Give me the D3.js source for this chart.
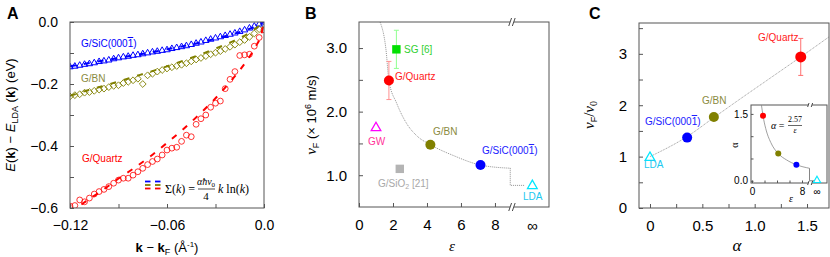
<!DOCTYPE html>
<html>
<head>
<meta charset="utf-8">
<script src="https://cdn.jsdelivr.net/npm/d3@7"></script>
<style>
  body { margin: 0; background: #fff; }
  svg { font-family: "Liberation Sans", Arial, sans-serif; }
</style>
</head>
<body>
<svg id="chart" width="830" height="257"></svg>
<script>
// ---------- panel A data: E(k) - E_LDA(k) vs k - kF ----------
const kA = [-0.120,-0.117,-0.114,-0.111,-0.108,-0.105,-0.102,-0.099,-0.096,-0.093,-0.090,-0.087,-0.084,-0.081,-0.078,-0.075,-0.072,-0.069,-0.066,-0.063,-0.060,-0.057,-0.054,-0.051,-0.048,-0.045,-0.042,-0.039,-0.036,-0.033,-0.030,-0.027,-0.024,-0.021,-0.018,-0.015,-0.012,-0.009,-0.006,-0.003,0.000];
const eSiC = [-0.145,-0.143,-0.140,-0.137,-0.135,-0.132,-0.128,-0.126,-0.123,-0.119,-0.116,-0.113,-0.111,-0.108,-0.106,-0.103,-0.100,-0.097,-0.095,-0.092,-0.090,-0.086,-0.083,-0.080,-0.077,-0.073,-0.069,-0.065,-0.060,-0.056,-0.052,-0.048,-0.044,-0.040,-0.036,-0.031,-0.026,-0.020,-0.014,-0.007,-0.001];
const eBN = [-0.240,-0.236,-0.233,-0.228,-0.226,-0.222,-0.218,-0.215,-0.210,-0.206,-0.204,-0.197,-0.193,-0.188,-0.183,-0.200,-0.172,-0.167,-0.160,-0.155,-0.150,-0.146,-0.142,-0.138,-0.133,-0.127,-0.121,-0.116,-0.110,-0.104,-0.099,-0.094,-0.087,-0.080,-0.073,-0.065,-0.058,-0.048,-0.037,-0.023,-0.008];
const eQz = [-0.594,-0.592,-0.574,-0.580,-0.568,-0.555,-0.547,-0.540,-0.531,-0.520,-0.510,-0.504,-0.504,-0.494,-0.483,-0.472,-0.460,-0.450,-0.442,-0.429,-0.413,-0.407,-0.404,-0.385,-0.365,-0.370,-0.330,-0.312,-0.300,-0.275,-0.262,-0.255,-0.215,-0.185,-0.160,-0.108,-0.106,-0.104,-0.078,-0.050,-0.025];

// fitted Sigma(k) curves
const fitSiC = [[-0.12,-0.143],[-0.11,-0.134],[-0.10,-0.125],[-0.09,-0.116],[-0.08,-0.107],[-0.07,-0.098],[-0.06,-0.088],[-0.05,-0.078],[-0.04,-0.067],[-0.03,-0.054],[-0.02,-0.040],[-0.01,-0.024],[0,0]];
const fitBN = [[-0.12,-0.238],[-0.11,-0.222],[-0.10,-0.207],[-0.09,-0.192],[-0.08,-0.176],[-0.07,-0.160],[-0.06,-0.143],[-0.05,-0.125],[-0.04,-0.106],[-0.03,-0.086],[-0.02,-0.064],[-0.01,-0.038],[0,0]];
const fitQz = [[-0.12,-0.615],[-0.11,-0.578],[-0.10,-0.543],[-0.09,-0.505],[-0.08,-0.470],[-0.07,-0.432],[-0.06,-0.390],[-0.05,-0.346],[-0.04,-0.298],[-0.03,-0.246],[-0.02,-0.187],[-0.01,-0.120],[-0.005,-0.078],[-0.002,-0.045],[0,0]];

// ---------- panel B data: vF vs epsilon ----------
const epsInf = 10.2; // where "infinity" sits on the eps axis
const bNames = ["G/Quartz", "SG [6]", "GW", "G/BN", "G/SiC", "G/SiO2", "LDA"];
const bEps = [1.76, 2.2, 1.0, 4.2, 7.15, 2.4, epsInf];
const bVF = [2.49, 2.98, 1.76, 1.48, 1.16, 1.10, 0.85];
const bErr = [0.30, 0.30, 0, 0, 0, 0, 0];
const bCurve = [[1.24,3.41],[1.59,2.97],[1.76,2.49],[2.22,2.13],[2.81,1.81],[3.4,1.62],[4.2,1.48],[5.55,1.31],[7.15,1.16],[8.9,1.11]];
const bStep = [[8.9,1.11],[8.9,0.84],[9.75,0.84]];

// ---------- panel C data: vF/v0 vs alpha ----------
const cNames = ["LDA", "G/SiC", "G/BN", "G/Quartz"];
const cAlpha = [0, 0.355, 0.61, 1.44];
const cRatio = [1.0, 1.37, 1.77, 2.94];
const cErr = [0, 0, 0, 0.36];
const cLine = [[0,1.0],[0.355,1.39],[0.61,1.76],[0.86,2.12],[1.15,2.53],[1.44,2.94],[1.71,3.33]];

// inset: alpha = 2.57 / eps
const insEps = [1.76, 4.2, 7.1, 10.4];
const insAlpha = [1.46, 0.61, 0.36, 0];
const insCurve = [[1.52,1.69],[1.76,1.46],[2.2,1.17],[3.0,0.86],[4.2,0.61],[5.5,0.47],[7.1,0.36],[9.2,0.28]];
const insStep = [[9.2,0.28],[9.2,0],[10.0,0]];

const cols = {
  red: "#ff0000", olive: "#808000", blue: "#0000ff", green: "#00e000",
  magenta: "#ff00ff", cyan: "#00e8ff", gray: "#b4b4b4"
};
const frameCol = "#555";
const serif = "'Liberation Serif', 'Times New Roman', serif";

const svg = d3.select("#chart");

// text made of styled pieces
function rich(sel, parts) {
  parts.forEach(p => {
    const ts = sel.append("tspan").text(p.t);
    if (p.i) ts.attr("font-style", "italic");
    if (p.b) ts.attr("font-weight", "bold");
    if (p.fs) ts.attr("font-size", p.fs);
    if (p.dy) ts.attr("dy", p.dy);
    if (p.ff) ts.attr("font-family", p.ff);
    if (p.ol) ts.style("text-decoration", "overline");
  });
  return sel;
}

function label(g, x, y, color, size, parts, anchor) {
  const t = g.append("text").attr("x", x).attr("y", y)
    .attr("fill", color).attr("font-size", size)
    .attr("text-anchor", anchor || "start");
  return rich(t, typeof parts === "string" ? [{ t: parts }] : parts);
}

function frame(g, x, y) {
  g.append("rect")
    .attr("x", x.range()[0]).attr("y", y.range()[1])
    .attr("width", x.range()[1] - x.range()[0])
    .attr("height", y.range()[0] - y.range()[1])
    .attr("fill", "none").attr("stroke", frameCol).attr("stroke-width", 1);
}

function axes(g, x, y, o) {
  const gx = g.append("g")
    .attr("transform", `translate(0,${y.range()[0]})`)
    .call(d3.axisBottom(x).tickValues(o.xt).tickFormat(o.xf).tickSize(-o.tl).tickPadding(o.xpad));
  const gy = g.append("g")
    .attr("transform", `translate(${x.range()[0]},0)`)
    .call(d3.axisLeft(y).tickValues(o.yt).tickFormat(o.yf).tickSize(-o.tl).tickPadding(o.ypad));
  [gx, gy].forEach(a => {
    a.select(".domain").remove();
    a.selectAll("line").attr("stroke", frameCol);
    a.selectAll("text").attr("font-size", o.fs).attr("fill", "#000")
      .attr("font-family", "'Liberation Sans', Arial, sans-serif");
  });
}

// break mark "//"
function breakMark(g, x, y, h) {
  g.append("rect").attr("x", x - 2).attr("y", y - 1).attr("width", 4).attr("height", 2).attr("fill", "#fff");
  [-1.8, 1.8].forEach(dx => {
    g.append("line")
      .attr("x1", x + dx - h * 0.35).attr("y1", y + h)
      .attr("x2", x + dx + h * 0.35).attr("y2", y - h)
      .attr("stroke", "#333").attr("stroke-width", 0.9);
  });
}

const sym = (type, size) => d3.symbol().type(type).size(size)();

// =================== PANEL A ===================
const xA = d3.scaleLinear().domain([-0.12, 0]).range([70, 264]);
const yA = d3.scaleLinear().domain([-0.6, 0]).range([208, 22]);
const gA = svg.append("g");

gA.append("clipPath").attr("id", "clipA")
  .append("rect").attr("x", 70).attr("y", 22).attr("width", 194).attr("height", 186);
const plotA = gA.append("g").attr("clip-path", "url(#clipA)");

const lineA = d3.line().x(d => xA(d[0])).y(d => yA(d[1])).curve(d3.curveMonotoneX);

// markers
plotA.selectAll(".qz").data(kA.map((k, i) => [k, eQz[i]])).join("circle")
  .attr("cx", d => xA(d[0])).attr("cy", d => yA(d[1])).attr("r", 2.9)
  .attr("fill", "none").attr("stroke", cols.red).attr("stroke-width", 0.8);
const diamond = "M0,-3.4L3.4,0L0,3.4L-3.4,0Z";
plotA.selectAll(".bn").data(kA.map((k, i) => [k, eBN[i]])).join("path")
  .attr("d", diamond)
  .attr("transform", d => `translate(${xA(d[0])},${yA(d[1])})`)
  .attr("fill", "none").attr("stroke", cols.olive).attr("stroke-width", 0.9);
plotA.selectAll(".sic").data(kA.map((k, i) => [k, eSiC[i]])).join("path")
  .attr("d", sym(d3.symbolTriangle, 18))
  .attr("transform", d => `translate(${xA(d[0])},${yA(d[1])})`)
  .attr("fill", "none").attr("stroke", cols.blue).attr("stroke-width", 1);

// dashed fits
[[fitQz, cols.red], [fitBN, cols.olive], [fitSiC, cols.blue]].forEach(([d, c]) => {
  plotA.append("path").attr("d", lineA(d))
    .attr("fill", "none").attr("stroke", c).attr("stroke-width", 2)
    .attr("stroke-dasharray", "6,8");
});

frame(gA, xA, yA);
axes(gA, xA, yA, {
  xt: [-0.12, -0.09, -0.06, -0.03, 0],
  xf: d => d === -0.09 || d === -0.03 ? "" : (d === 0 ? "0.0" : d3.format(".2f")(d)),
  yt: [-0.6, -0.5, -0.4, -0.3, -0.2, -0.1, 0],
  yf: d => [-0.6, -0.4, -0.2, 0].includes(d) ? d3.format(".1f")(d) : "",
  tl: 4, xpad: 12, ypad: 12, fs: 14
});

label(gA, 81, 47, cols.blue, 10, [{ t: "G/SiC(000" }, { t: "1", ol: true }, { t: ")" }]);
label(gA, 81, 82, "#8a8a40", 10, "G/BN");
label(gA, 82, 162, cols.red, 10, "G/Quartz");

// legend dashes + formula
[[cols.blue, 181.5], [cols.olive, 185], [cols.red, 188.5]].forEach(([c, y]) => {
  [[145, 150.5], [155, 160.5]].forEach(([x1, x2]) => {
    gA.append("line").attr("x1", x1).attr("x2", x2).attr("y1", y).attr("y2", y)
      .attr("stroke", c).attr("stroke-width", 1.8);
  });
});
const fA = gA.append("g").attr("font-family", serif).attr("fill", "#000");
rich(fA.append("text").attr("x", 165).attr("y", 193).attr("font-size", 12),
  [{ t: "Σ(" }, { t: "k", i: true }, { t: ") =" }]);
rich(fA.append("text").attr("x", 206).attr("y", 185).attr("font-size", 10).attr("text-anchor", "middle"),
  [{ t: "αħv", i: true }, { t: "0", fs: 7, dy: 2 }]);
fA.append("line").attr("x1", 198).attr("x2", 215).attr("y1", 189).attr("y2", 189)
  .attr("stroke", "#000").attr("stroke-width", 0.7);
fA.append("text").attr("x", 206).attr("y", 200).attr("font-size", 11).attr("text-anchor", "middle").text("4");
rich(fA.append("text").attr("x", 218).attr("y", 193).attr("font-size", 12),
  [{ t: "k", i: true }, { t: " ln(" }, { t: "k", i: true }, { t: ")" }]);

// axis titles
rich(gA.append("text").attr("transform", "translate(15,115) rotate(-90)")
  .attr("text-anchor", "middle").attr("font-size", 13),
  [{ t: "E", i: true }, { t: "(" }, { t: "k", b: true }, { t: ") − " }, { t: "E", i: true },
   { t: "LDA", fs: 9, dy: 3 }, { t: " (", dy: -3 }, { t: "k", b: true }, { t: ") (eV)" }]);
rich(gA.append("text").attr("x", 167).attr("y", 252).attr("text-anchor", "middle").attr("font-size", 13),
  [{ t: "k", b: true }, { t: " − " }, { t: "k", b: true }, { t: "F", fs: 9, dy: 3 },
   { t: " (Å", dy: -3 }, { t: "-1", fs: 8, dy: -5 }, { t: ")", dy: 5 }]);
gA.append("text").attr("x", 7).attr("y", 19).attr("font-size", 16).attr("font-weight", "bold").text("A");

// =================== PANEL B ===================
const xB = d3.scaleLinear().domain([0, 11.18]).range([359, 549]);
const yB = d3.scaleLinear().domain([0.5, 3.41]).range([207, 22]);
const gB = svg.append("g");
const lineB = d3.line().x(d => xB(d[0])).y(d => yB(d[1]));

gB.append("path").attr("d", lineB.curve(d3.curveMonotoneX)(bCurve))
  .attr("fill", "none").attr("stroke", "#777").attr("stroke-width", 0.8).attr("stroke-dasharray", "1,1");
gB.append("path").attr("d", d3.line().x(d => xB(d[0])).y(d => yB(d[1]))(bStep))
  .attr("fill", "none").attr("stroke", "#777").attr("stroke-width", 0.8).attr("stroke-dasharray", "1,1");

frame(gB, xB, yB);
breakMark(gB, xB(9.0), 22, 4);
breakMark(gB, xB(9.0), 207, 4);
axes(gB, xB, yB, {
  xt: [0, 2, 4, 6, 8], xf: d3.format("d"),
  yt: [1.0, 1.5, 2.0, 2.5, 3.0], yf: d => Number.isInteger(d) ? d3.format(".1f")(d) : "",
  tl: 4, xpad: 12, ypad: 12, fs: 15
});
gB.append("text").attr("x", xB(epsInf)).attr("y", 231).attr("text-anchor", "middle")
  .attr("font-size", 15).text("∞");

const bStyle = [
  { c: cols.red, shape: "circle", tc: "#ff2020", lx: 395, ly: 80, ep: "#ff9090" },
  { c: cols.green, shape: "square", tc: "#30d030", lx: 404, ly: 53, ep: "#90ff90" },
  { c: cols.magenta, shape: "tri", tc: "#ff3399", lx: 368, ly: 145 },
  { c: cols.olive, shape: "circle", tc: "#8a8a40", lx: 433, ly: 135 },
  { c: cols.blue, shape: "circle", tc: "#2020ff", lx: 482, ly: 154 },
  { c: cols.gray, shape: "square", tc: "#a8a8a8", lx: 378, ly: 187 },
  { c: cols.cyan, shape: "tri", tc: "#20c8f0", lx: 523, ly: 200 }
];

// error bars
bEps.forEach((e, i) => {
  if (!bErr[i]) return;
  const x = xB(e), y1 = yB(bVF[i] - bErr[i]), y2 = yB(bVF[i] + bErr[i]);
  gB.append("line").attr("x1", x).attr("x2", x).attr("y1", y1).attr("y2", y2)
    .attr("stroke", bStyle[i].ep).attr("stroke-width", 1);
  [y1, y2].forEach(y => gB.append("line").attr("x1", x - 2.5).attr("x2", x + 2.5)
    .attr("y1", y).attr("y2", y).attr("stroke", bStyle[i].ep).attr("stroke-width", 1));
});

function marker(g, shape, x, y, c, s) {
  if (shape === "circle") {
    g.append("circle").attr("cx", x).attr("cy", y).attr("r", s).attr("fill", c);
  } else if (shape === "square") {
    g.append("rect").attr("x", x - s).attr("y", y - s).attr("width", 2 * s).attr("height", 2 * s).attr("fill", c);
  } else {
    g.append("path").attr("d", `M0,${-s * 1.1}L${s * 1.15},${s * 0.9}L${-s * 1.15},${s * 0.9}Z`)
      .attr("transform", `translate(${x},${y})`)
      .attr("fill", "none").attr("stroke", c).attr("stroke-width", 1.3);
  }
}

bEps.forEach((e, i) => {
  const st = bStyle[i];
  const size = st.shape === "circle" ? 5 : 4.2;
  marker(gB, st.shape, xB(e), yB(bVF[i]), st.c, size);
});

bNames.forEach((n, i) => {
  const st = bStyle[i];
  let parts = n;
  if (n === "G/SiC") parts = [{ t: "G/SiC(000" }, { t: "1", ol: true }, { t: ")" }];
  if (n === "G/SiO2") parts = [{ t: "G/SiO" }, { t: "2", fs: 7, dy: 2 }, { t: " [21]", dy: -2 }];
  label(gB, st.lx, st.ly, st.tc, 10, parts);
});

rich(gB.append("text").attr("transform", "translate(316,115) rotate(-90)")
  .attr("text-anchor", "middle").attr("font-size", 13),
  [{ t: "v", i: true, ff: serif, fs: 15 }, { t: "F", fs: 9, dy: 3 }, { t: " (× 10", dy: -3 },
   { t: "6", fs: 9, dy: -5 }, { t: " m/s)", dy: 5 }]);
gB.append("text").attr("x", 452).attr("y", 251).attr("text-anchor", "middle")
  .attr("font-family", serif).attr("font-style", "italic").attr("font-size", 15).text("ε");
gB.append("text").attr("x", 305).attr("y", 19).attr("font-size", 16).attr("font-weight", "bold").text("B");

// =================== PANEL C ===================
const xC = d3.scaleLinear().domain([-0.105, 1.71]).range([639, 829]);
const yC = d3.scaleLinear().domain([0, 3.6]).range([208, 23]);
const gC = svg.append("g");

gC.append("path").attr("d", d3.line().x(d => xC(d[0])).y(d => yC(d[1])).curve(d3.curveMonotoneX)(cLine))
  .attr("fill", "none").attr("stroke", "#888").attr("stroke-width", 0.8).attr("stroke-dasharray", "1,0.8");

frame(gC, xC, yC);
axes(gC, xC, yC, {
  xt: [0, 0.25, 0.5, 0.75, 1.0, 1.25, 1.5],
  xf: d => d === 0 ? "0" : ([0.5, 1.0, 1.5].includes(d) ? d3.format(".1f")(d) : ""),
  yt: [0, 0.5, 1, 1.5, 2, 2.5, 3, 3.5],
  yf: d => Number.isInteger(d) ? String(d) : "",
  tl: 4, xpad: 12, ypad: 12, fs: 15
});

// quartz error bar
cAlpha.forEach((a, i) => {
  if (!cErr[i]) return;
  const x = xC(a), y1 = yC(cRatio[i] - cErr[i]), y2 = yC(cRatio[i] + cErr[i]);
  gC.append("line").attr("x1", x).attr("x2", x).attr("y1", y1).attr("y2", y2)
    .attr("stroke", "#ff7070").attr("stroke-width", 1);
  [y1, y2].forEach(y => gC.append("line").attr("x1", x - 2.5).attr("x2", x + 2.5)
    .attr("y1", y).attr("y2", y).attr("stroke", "#ff7070").attr("stroke-width", 1));
});

const cStyle = [
  { c: cols.cyan, shape: "tri", tc: "#20c8f0", lx: 644, ly: 168 },
  { c: cols.blue, shape: "circle", tc: "#2020ff", lx: 645, ly: 125 },
  { c: cols.olive, shape: "circle", tc: "#8a8a40", lx: 702, ly: 104 },
  { c: cols.red, shape: "circle", tc: "#ff2020", lx: 758, ly: 41 }
];
cAlpha.forEach((a, i) => {
  const st = cStyle[i];
  marker(gC, st.shape, xC(a), yC(cRatio[i]), st.c, st.shape === "circle" ? (i === 3 ? 5.5 : 5) : 4.2);
});
cNames.forEach((n, i) => {
  const st = cStyle[i];
  const parts = n === "G/SiC" ? [{ t: "G/SiC(000" }, { t: "1", ol: true }, { t: ")" }] : n;
  label(gC, st.lx, st.ly, st.tc, 10, parts);
});

rich(gC.append("text").attr("transform", "translate(594,115) rotate(-90)")
  .attr("text-anchor", "middle").attr("font-size", 15).attr("font-family", serif),
  [{ t: "v", i: true }, { t: "F", fs: 9, dy: 3, ff: "'Liberation Sans', Arial, sans-serif" },
   { t: "/", dy: -3 }, { t: "v", i: true }, { t: "0", fs: 10, dy: 3 }]);
gC.append("text").attr("x", 737).attr("y", 251).attr("text-anchor", "middle")
  .attr("font-family", serif).attr("font-style", "italic").attr("font-size", 17).text("α");
gC.append("text").attr("x", 589).attr("y", 19).attr("font-size", 16).attr("font-weight", "bold").text("C");

// ---------- inset ----------
const xI = d3.scaleLinear().domain([-0.16, 12]).range([751, 827]);
const yI = d3.scaleLinear().domain([-0.05, 1.7]).range([183, 105]);
const gI = gC.append("g");
gI.append("rect").attr("x", 751).attr("y", 105).attr("width", 76).attr("height", 78).attr("fill", "#fff");
const lineI = d3.line().x(d => xI(d[0])).y(d => yI(d[1]));
gI.append("path").attr("d", lineI.curve(d3.curveMonotoneX)(insCurve))
  .attr("fill", "none").attr("stroke", "#888").attr("stroke-width", 0.8);
gI.append("path").attr("d", d3.line().x(d => xI(d[0])).y(d => yI(d[1]))(insStep))
  .attr("fill", "none").attr("stroke", "#666").attr("stroke-width", 0.8);
frame(gI, xI, yI);
breakMark(gI, xI(9.3), 105, 2);
breakMark(gI, xI(9.3), 183, 2);
axes(gI, xI, yI, {
  xt: [0, 2, 4, 6, 8], xf: d => d === 0 || d === 8 ? String(d) : "",
  yt: [0, 0.5, 1.0, 1.5], yf: d => d === 0 || d === 1.5 ? d3.format(".1f")(d) : "",
  tl: 2.5, xpad: 5, ypad: 3, fs: 10
});
gI.append("text").attr("x", xI(10.4)).attr("y", 195).attr("text-anchor", "middle").attr("font-size", 10).text("∞");
const iCols = [cols.red, cols.olive, cols.blue, cols.cyan];
insEps.forEach((e, i) => {
  if (i === 3) {
    gI.append("path").attr("d", "M0,-3.6L3.6,2.8L-3.6,2.8Z")
      .attr("transform", `translate(${xI(e)},${yI(insAlpha[i]) - 1})`)
      .attr("fill", "none").attr("stroke", cols.cyan).attr("stroke-width", 1.1);
  } else {
    gI.append("circle").attr("cx", xI(e)).attr("cy", yI(insAlpha[i])).attr("r", 3).attr("fill", iCols[i]);
  }
});
const fI = gI.append("g").attr("font-family", serif).attr("fill", "#000");
rich(fI.append("text").attr("x", 771).attr("y", 129).attr("font-size", 10), [{ t: "α", i: true }, { t: " =" }]);
fI.append("text").attr("x", 795).attr("y", 122).attr("font-size", 8).attr("text-anchor", "middle").text("2.57");
fI.append("line").attr("x1", 788).attr("x2", 802).attr("y1", 125.5).attr("y2", 125.5).attr("stroke", "#000").attr("stroke-width", 0.6);
fI.append("text").attr("x", 795).attr("y", 133).attr("font-size", 8).attr("font-style", "italic").attr("text-anchor", "middle").text("ε");
gI.append("text").attr("transform", "translate(738,145) rotate(-90)").attr("text-anchor", "middle")
  .attr("font-family", serif).attr("font-size", 10).text("α");
gI.append("text").attr("x", 791).attr("y", 202).attr("text-anchor", "middle")
  .attr("font-family", serif).attr("font-style", "italic").attr("font-size", 10).text("ε");
</script>
</body>
</html>
